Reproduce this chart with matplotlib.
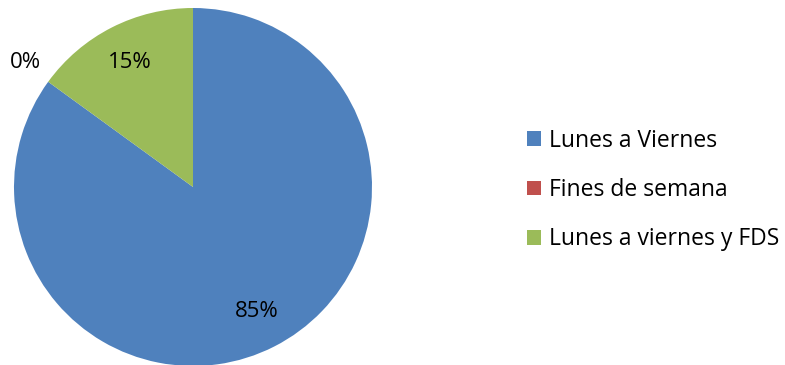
import numpy as np
import matplotlib.pyplot as plt
from matplotlib.patches import Patch

categories = ['Lunes a Viernes', 'Fines de semana', 'Lunes a viernes y FDS']
shares = [85, 0, 15]
colors = ['#4F81BD', '#C0504D', '#9BBB59']

plt.rcParams['font.family'] = ['Open Sans', 'DejaVu Sans']

W, H = 785, 365
fig = plt.figure(figsize=(W / 100, H / 100), dpi=100)

# pie centre and radius in pixels
cx, cy, r = 193, 178, 179
ax = fig.add_axes([(cx - r) / W, (cy - r) / H, 2 * r / W, 2 * r / H])

wedges, texts, autotexts = ax.pie(
    shares, colors=colors, startangle=90, counterclock=False,
    autopct='%1.0f%%', pctdistance=0.78, radius=1.0,
    wedgeprops=dict(linewidth=0), textprops=dict(fontsize=16, color='black'))

# zero-size slice gets its label pushed outside the pie
for w, t, v in zip(wedges, autotexts, shares):
    if v == 0:
        ang = np.deg2rad((w.theta1 + w.theta2) / 2)
        t.set_position((1.16 * np.cos(ang), 1.18 * np.sin(ang)))

ax.set_xlim(-1, 1)
ax.set_ylim(-1, 1)
ax.set_aspect('equal')
ax.axis('off')

handles = [Patch(facecolor=c, edgecolor='none') for c in colors]
fig.legend(handles, categories, loc='center left',
           bbox_to_anchor=(527 / W, (H - 190) / H), frameon=False, fontsize=16.5,
           handlelength=0.62, handleheight=0.62, handletextpad=0.33,
           labelspacing=1.1, borderaxespad=0, borderpad=0)

fig.savefig('out.png', dpi=100)
